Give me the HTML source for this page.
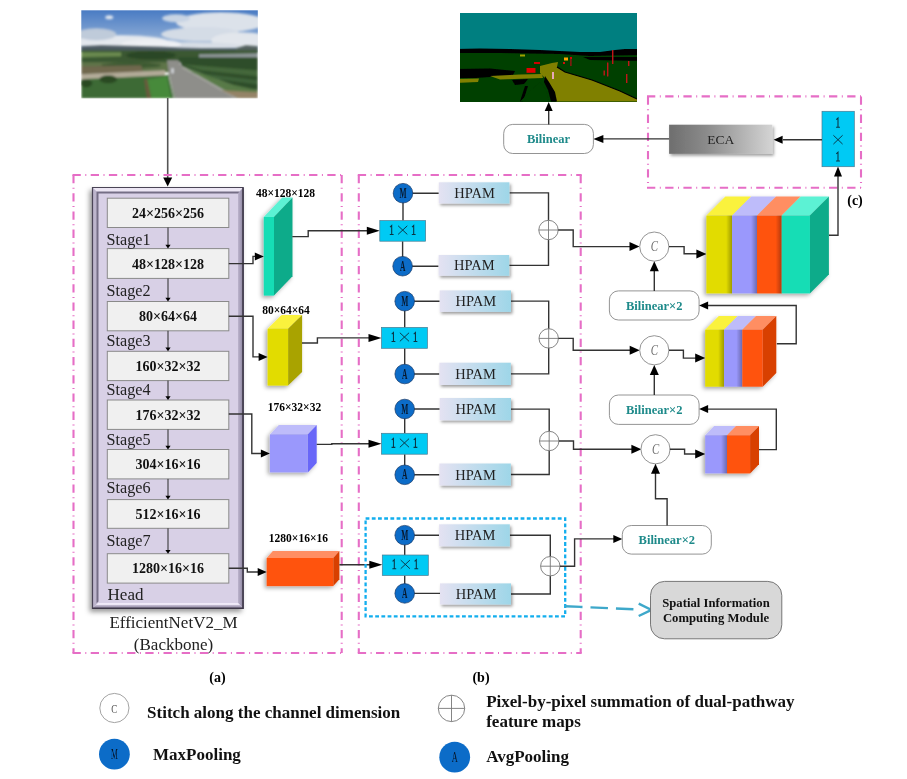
<!DOCTYPE html><html><head><meta charset="utf-8"><style>html,body{margin:0;padding:0;background:#fff;}svg{display:block;will-change:transform;}</style></head><body>
<svg width="907" height="779" viewBox="0 0 907 779">
<defs>
<filter id="sh" x="-30%" y="-30%" width="160%" height="160%"><feDropShadow dx="-2" dy="2" stdDeviation="2" flood-color="#000" flood-opacity="0.35"/></filter>
<filter id="sh2" x="-30%" y="-40%" width="160%" height="180%"><feDropShadow dx="1.5" dy="2" stdDeviation="1.8" flood-color="#000" flood-opacity="0.38"/></filter>
<filter id="sh3" x="-30%" y="-30%" width="160%" height="160%"><feDropShadow dx="-2.5" dy="3" stdDeviation="2.5" flood-color="#000" flood-opacity="0.4"/></filter>
<linearGradient id="bvr" x1="0" y1="0" x2="1" y2="0"><stop offset="0" stop-color="#BCB4CC"/><stop offset="1" stop-color="#847C98"/></linearGradient>
<linearGradient id="bvb" x1="0" y1="0" x2="0" y2="1"><stop offset="0" stop-color="#F2ECFA"/><stop offset="0.3" stop-color="#ECE6F4"/><stop offset="0.45" stop-color="#B0A8C0"/><stop offset="1" stop-color="#8E86A0"/></linearGradient>
<filter id="blur1"><feGaussianBlur stdDeviation="2"/></filter>
<filter id="blur05"><feGaussianBlur stdDeviation="0.6"/></filter>
<linearGradient id="hp" x1="0" y1="0" x2="1" y2="0"><stop offset="0" stop-color="#E4E2F2"/><stop offset="1" stop-color="#9ED6E8"/></linearGradient>
<linearGradient id="eca" x1="0" y1="0" x2="1" y2="0"><stop offset="0" stop-color="#6E6E6E"/><stop offset="0.35" stop-color="#8A8A8A"/><stop offset="1" stop-color="#D4D4D4"/></linearGradient>
<linearGradient id="edge" x1="0" y1="0" x2="1" y2="0"><stop offset="0" stop-color="#000" stop-opacity="0"/><stop offset="1" stop-color="#000" stop-opacity="0.3"/></linearGradient>
<linearGradient id="sky" x1="0" y1="0" x2="0" y2="1"><stop offset="0" stop-color="#3E72BC"/><stop offset="0.6" stop-color="#8FB0D8"/><stop offset="1" stop-color="#D8DEE6"/></linearGradient>
</defs>
<svg x="81.3" y="10.3" width="176.5" height="88" viewBox="0 0 177 88" preserveAspectRatio="none">
<defs><linearGradient id="sky2" x1="0" y1="0" x2="0" y2="1"><stop offset="0" stop-color="#4A7CC4"/><stop offset="0.55" stop-color="#7FA2D2"/><stop offset="1" stop-color="#C4CFDD"/></linearGradient><filter id="pb" x="-10%" y="-10%" width="120%" height="120%"><feGaussianBlur stdDeviation="1.2"/></filter><filter id="pb2" x="-5%" y="-5%" width="110%" height="110%"><feGaussianBlur stdDeviation="0.8"/></filter><clipPath id="pc"><rect width="177" height="88"/></clipPath></defs>
<g clip-path="url(#pc)">
<rect width="177" height="42" fill="url(#sky2)"/>
<g filter="url(#pb)">
<ellipse cx="140" cy="12" rx="45" ry="10" fill="#DCE2EA"/>
<ellipse cx="120" cy="24" rx="40" ry="7" fill="#D4DCE6"/>
<ellipse cx="160" cy="30" rx="30" ry="8" fill="#E2E6EC"/>
<ellipse cx="110" cy="36" rx="50" ry="4" fill="#D8DEE6"/>
<ellipse cx="95" cy="8" rx="14" ry="4" fill="#C8D4E4"/>
<ellipse cx="40" cy="32" rx="48" ry="7" fill="#E4E8EE"/>
<ellipse cx="70" cy="34" rx="30" ry="5" fill="#EEF0F4"/>
<ellipse cx="15" cy="24" rx="20" ry="6" fill="#BFCBDA"/>
<ellipse cx="28" cy="7" rx="4" ry="2" fill="#DDE4EE"/>
</g>
<g filter="url(#pb2)">
<polygon points="0,36 20,35 40,35.5 60,36 80,36.5 100,37.5 120,38 177,38 177,44 0,44" fill="#4E5A62"/>
<polygon points="155,38 165,35 177,36 177,42 155,42" fill="#55625E"/>
<rect x="0" y="40" width="177" height="12" fill="#3A5832"/>
<polygon points="0,42 40,42 40,46 0,47" fill="#6A8A50"/>
<ellipse cx="70" cy="45" rx="25" ry="4" fill="#2C4626"/>
<polygon points="0,52 88,52 88,62 0,64" fill="#5E7448"/>
<ellipse cx="50" cy="55" rx="30" ry="3" fill="#3E5A32"/>
<polygon points="0,56 60,55 62,62 0,64" fill="#70684E"/>
<polygon points="0,64 84,60 84,66 0,70" fill="#B4AC9A"/>
<polygon points="0,69 84,65 92,64 94,88 0,88" fill="#3C6A36"/>
<ellipse cx="27" cy="69" rx="9" ry="4" fill="#2A4A24"/>
<ellipse cx="5" cy="73" rx="6" ry="4" fill="#2A4A24"/>
<polygon points="66,69 86,66 90,88 70,88" fill="#468A3A"/>
<polygon points="63,69 66,69 70,88 66,88" fill="#6A5A3E"/>
<polygon points="86,50 97,50 101,56 158,88 94,88 88,66" fill="#8E8E8A"/>
<polyline points="88,66 93,88" fill="none" stroke="#D8D8D0" stroke-width="0.8"/>
<polyline points="101,57 155,88" fill="none" stroke="#C8C8C0" stroke-width="0.6"/>
<polygon points="118,44 177,43 177,48 118,47" fill="#8E9698"/>
<polygon points="97,47 177,47 177,80 160,78 101,56" fill="#2E4E2A"/>
<polygon points="101,54 177,60 177,66 120,60" fill="#44683A"/>
<polygon points="110,62 177,70 177,74 130,68" fill="#40643A"/>
<polygon points="101,56 158,88 177,88 177,80 150,74" fill="#587A46"/>
<polygon points="140,80 177,82 177,88 158,88" fill="#958468"/>
<rect x="90.5" y="58" width="2" height="5" fill="#E0E4EA"/>
</g>
</g>
</svg>
<polyline points="167.7,98.0 167.7,179.0" fill="none" stroke="#555" stroke-width="1.6" stroke-linejoin="miter"/>
<polygon points="167.7,186.5 163.2,177.5 172.2,177.5" fill="#000"/>
<path d="M72.5 175.0 H342.7" fill="none" stroke="#E66EC6" stroke-width="2.1" stroke-dasharray="8.3 4.5 1 4.4"/>
<path d="M72.5 653.0 H342.7" fill="none" stroke="#E66EC6" stroke-width="2.1" stroke-dasharray="8.3 4.5 1 4.4"/>
<path d="M73.5 175.0 V653.0" fill="none" stroke="#E66EC6" stroke-width="2.1" stroke-dasharray="8.3 4.5 1 4.4"/>
<path d="M341.7 175.0 V653.0" fill="none" stroke="#E66EC6" stroke-width="2.1" stroke-dasharray="8.3 4.5 1 4.4"/>
<path d="M357.8 175.0 H581.7" fill="none" stroke="#E66EC6" stroke-width="2.1" stroke-dasharray="8.3 4.5 1 4.4"/>
<path d="M357.8 653.0 H581.7" fill="none" stroke="#E66EC6" stroke-width="2.1" stroke-dasharray="8.3 4.5 1 4.4"/>
<path d="M358.8 175.0 V653.0" fill="none" stroke="#E66EC6" stroke-width="2.1" stroke-dasharray="8.3 4.5 1 4.4"/>
<path d="M580.7 175.0 V653.0" fill="none" stroke="#E66EC6" stroke-width="2.1" stroke-dasharray="8.3 4.5 1 4.4"/>
<path d="M647.0 96.4 H862.0" fill="none" stroke="#E66EC6" stroke-width="2.1" stroke-dasharray="8.3 4.5 1 4.4"/>
<path d="M647.0 187.7 H862.0" fill="none" stroke="#E66EC6" stroke-width="2.1" stroke-dasharray="8.3 4.5 1 4.4"/>
<path d="M648.0 96.4 V187.7" fill="none" stroke="#E66EC6" stroke-width="2.1" stroke-dasharray="8.3 4.5 1 4.4"/>
<path d="M861.0 96.4 V187.7" fill="none" stroke="#E66EC6" stroke-width="2.1" stroke-dasharray="8.3 4.5 1 4.4"/>
<rect x="92" y="187" width="152" height="422" fill="#D8D0E6" filter="url(#sh3)"/>
<polygon points="92,187 244,187 238,193 98,193" fill="#ECE6F4"/>
<polygon points="92,187 98,193 98,603 92,609" fill="#BDB5CC"/>
<polygon points="244,187 244,609 238,603 238,193" fill="url(#bvr)"/>
<polygon points="92,609 244,609 238,603 98,603" fill="url(#bvb)"/>
<polygon points="96.5,191.5 239.5,191.5 238,193.5 98.5,193.5 98.5,601.5 96.5,603" fill="#756E86"/>
<polyline points="92.5,609 92.5,187.5 243.5,187.5" fill="none" stroke="#4A4456" stroke-width="1.2"/>
<polyline points="243,187.5 243,608.2 92.5,608.2" fill="none" stroke="#3E3848" stroke-width="1.6"/>
<rect x="107.3" y="198.2" width="121.5" height="29.3" fill="#F0F0F0" stroke="#8A8A8A" stroke-width="1"/>
<text x="168.0" y="217.8" font-family="Liberation Serif" font-size="14" font-weight="bold" fill="#111" text-anchor="middle" >24×256×256</text>
<rect x="107.3" y="248.6" width="121.5" height="29.8" fill="#F0F0F0" stroke="#8A8A8A" stroke-width="1"/>
<text x="168.0" y="268.5" font-family="Liberation Serif" font-size="14" font-weight="bold" fill="#111" text-anchor="middle" >48×128×128</text>
<rect x="107.3" y="301.5" width="121.5" height="29.3" fill="#F0F0F0" stroke="#8A8A8A" stroke-width="1"/>
<text x="168.0" y="321.1" font-family="Liberation Serif" font-size="14" font-weight="bold" fill="#111" text-anchor="middle" >80×64×64</text>
<rect x="107.3" y="351.3" width="121.5" height="29.3" fill="#F0F0F0" stroke="#8A8A8A" stroke-width="1"/>
<text x="168.0" y="371.0" font-family="Liberation Serif" font-size="14" font-weight="bold" fill="#111" text-anchor="middle" >160×32×32</text>
<rect x="107.3" y="400.0" width="121.5" height="29.4" fill="#F0F0F0" stroke="#8A8A8A" stroke-width="1"/>
<text x="168.0" y="419.7" font-family="Liberation Serif" font-size="14" font-weight="bold" fill="#111" text-anchor="middle" >176×32×32</text>
<rect x="107.3" y="449.5" width="121.5" height="29.4" fill="#F0F0F0" stroke="#8A8A8A" stroke-width="1"/>
<text x="168.0" y="469.2" font-family="Liberation Serif" font-size="14" font-weight="bold" fill="#111" text-anchor="middle" >304×16×16</text>
<rect x="107.3" y="499.6" width="121.5" height="28.7" fill="#F0F0F0" stroke="#8A8A8A" stroke-width="1"/>
<text x="168.0" y="519.0" font-family="Liberation Serif" font-size="14" font-weight="bold" fill="#111" text-anchor="middle" >512×16×16</text>
<rect x="107.3" y="553.7" width="121.5" height="29.4" fill="#F0F0F0" stroke="#8A8A8A" stroke-width="1"/>
<text x="168.0" y="573.4" font-family="Liberation Serif" font-size="14" font-weight="bold" fill="#111" text-anchor="middle" >1280×16×16</text>
<text x="106.5" y="244.7" font-family="Liberation Serif" font-size="17.5" font-weight="normal" fill="#222" text-anchor="start" textLength="44" lengthAdjust="spacingAndGlyphs">Stage1</text>
<text x="106.5" y="296.0" font-family="Liberation Serif" font-size="17.5" font-weight="normal" fill="#222" text-anchor="start" textLength="44" lengthAdjust="spacingAndGlyphs">Stage2</text>
<text x="106.5" y="346.0" font-family="Liberation Serif" font-size="17.5" font-weight="normal" fill="#222" text-anchor="start" textLength="44" lengthAdjust="spacingAndGlyphs">Stage3</text>
<text x="106.5" y="395.0" font-family="Liberation Serif" font-size="17.5" font-weight="normal" fill="#222" text-anchor="start" textLength="44" lengthAdjust="spacingAndGlyphs">Stage4</text>
<text x="106.5" y="444.5" font-family="Liberation Serif" font-size="17.5" font-weight="normal" fill="#222" text-anchor="start" textLength="44" lengthAdjust="spacingAndGlyphs">Stage5</text>
<text x="106.5" y="493.0" font-family="Liberation Serif" font-size="17.5" font-weight="normal" fill="#222" text-anchor="start" textLength="44" lengthAdjust="spacingAndGlyphs">Stage6</text>
<text x="106.5" y="546.0" font-family="Liberation Serif" font-size="17.5" font-weight="normal" fill="#222" text-anchor="start" textLength="44" lengthAdjust="spacingAndGlyphs">Stage7</text>
<text x="107.5" y="599.5" font-family="Liberation Serif" font-size="17.5" font-weight="normal" fill="#222" text-anchor="start" textLength="36" lengthAdjust="spacingAndGlyphs">Head</text>
<polyline points="168.0,227.5 168.0,245.6" fill="none" stroke="#2A2A2A" stroke-width="1.0" stroke-linejoin="miter"/>
<polygon points="168.0,248.6 165.4,244.8 170.6,244.8" fill="#000"/>
<polyline points="168.0,278.4 168.0,298.5" fill="none" stroke="#2A2A2A" stroke-width="1.0" stroke-linejoin="miter"/>
<polygon points="168.0,301.5 165.4,297.7 170.6,297.7" fill="#000"/>
<polyline points="168.0,330.8 168.0,348.3" fill="none" stroke="#2A2A2A" stroke-width="1.0" stroke-linejoin="miter"/>
<polygon points="168.0,351.3 165.4,347.5 170.6,347.5" fill="#000"/>
<polyline points="168.0,380.6 168.0,397.0" fill="none" stroke="#2A2A2A" stroke-width="1.0" stroke-linejoin="miter"/>
<polygon points="168.0,400.0 165.4,396.2 170.6,396.2" fill="#000"/>
<polyline points="168.0,429.4 168.0,446.5" fill="none" stroke="#2A2A2A" stroke-width="1.0" stroke-linejoin="miter"/>
<polygon points="168.0,449.5 165.4,445.7 170.6,445.7" fill="#000"/>
<polyline points="168.0,478.9 168.0,496.6" fill="none" stroke="#2A2A2A" stroke-width="1.0" stroke-linejoin="miter"/>
<polygon points="168.0,499.6 165.4,495.8 170.6,495.8" fill="#000"/>
<polyline points="168.0,528.3 168.0,550.7" fill="none" stroke="#2A2A2A" stroke-width="1.0" stroke-linejoin="miter"/>
<polygon points="168.0,553.7 165.4,549.9 170.6,549.9" fill="#000"/>
<text x="173.5" y="628.0" font-family="Liberation Serif" font-size="17" font-weight="normal" fill="#222" text-anchor="middle" >EfficientNetV2_M</text>
<text x="173.5" y="649.5" font-family="Liberation Serif" font-size="17" font-weight="normal" fill="#222" text-anchor="middle" >(Backbone)</text>
<text x="217.5" y="681.5" font-family="Liberation Serif" font-size="14" font-weight="bold" fill="#000" text-anchor="middle" >(a)</text>
<text x="481.0" y="681.5" font-family="Liberation Serif" font-size="14" font-weight="bold" fill="#000" text-anchor="middle" >(b)</text>
<g filter="url(#sh)">
<polygon points="263.8,217.0 274.0,217.0 292.5,197.6 282.3,197.6" fill="#5CF2D4"/>
<polygon points="274.0,217.0 292.5,197.6 292.5,276.2 274.0,295.6" fill="#0EAB8A"/>
<rect x="263.8" y="217.0" width="10.2" height="78.6" fill="#12DDB5"/>
</g>
<text x="285.5" y="196.6" font-family="Liberation Serif" font-size="11.5" font-weight="bold" fill="#000" text-anchor="middle" >48×128×128</text>
<g filter="url(#sh)">
<polygon points="267.6,328.7 288.1,328.7 302.1,315.0 281.6,315.0" fill="#FAF23E"/>
<polygon points="288.1,328.7 302.1,315.0 302.1,371.9 288.1,385.6" fill="#A9A300"/>
<rect x="267.6" y="328.7" width="20.5" height="56.9" fill="#E2DC00"/>
</g>
<text x="286.0" y="314.4" font-family="Liberation Serif" font-size="11.5" font-weight="bold" fill="#000" text-anchor="middle" >80×64×64</text>
<g filter="url(#sh)">
<polygon points="269.9,434.4 307.8,434.4 316.7,425.1 278.8,425.1" fill="#BEBCFA"/>
<polygon points="307.8,434.4 316.7,425.1 316.7,463.1 307.8,472.4" fill="#6866F8"/>
<rect x="269.9" y="434.4" width="37.9" height="38.0" fill="#9A98FC"/>
</g>
<text x="294.5" y="410.8" font-family="Liberation Serif" font-size="11.5" font-weight="bold" fill="#000" text-anchor="middle" >176×32×32</text>
<g filter="url(#sh)">
<polygon points="266.7,558.0 333.3,558.0 339.4,551.1 272.8,551.1" fill="#FF8E62"/>
<polygon points="333.3,558.0 339.4,551.1 339.4,579.2 333.3,586.1" fill="#D84000"/>
<rect x="266.7" y="558.0" width="66.6" height="28.1" fill="#FF5210"/>
</g>
<text x="298.4" y="541.5" font-family="Liberation Serif" font-size="11.5" font-weight="bold" fill="#000" text-anchor="middle" >1280×16×16</text>
<polyline points="228.8,263.6 253.0,263.6 253.0,256.4 256.0,256.4" fill="none" stroke="#333" stroke-width="1.4" stroke-linejoin="miter"/>
<polygon points="263.8,256.4 254.8,252.4 254.8,260.4" fill="#000"/>
<polyline points="228.8,316.2 253.0,316.2 253.0,356.9 259.0,356.9" fill="none" stroke="#333" stroke-width="1.4" stroke-linejoin="miter"/>
<polygon points="267.6,356.9 258.6,352.9 258.6,360.9" fill="#000"/>
<polyline points="228.8,414.0 251.8,414.0 251.8,453.5 261.0,453.5" fill="none" stroke="#333" stroke-width="1.4" stroke-linejoin="miter"/>
<polygon points="269.9,453.5 260.9,449.5 260.9,457.5" fill="#000"/>
<polyline points="228.8,568.3 247.3,568.3 247.3,572.0 258.0,572.0" fill="none" stroke="#333" stroke-width="1.4" stroke-linejoin="miter"/>
<polygon points="266.7,572.0 257.7,568.0 257.7,576.0" fill="#000"/>
<polyline points="292.3,236.6 308.2,236.6 308.2,230.8 371.0,230.8" fill="none" stroke="#333" stroke-width="1.4" stroke-linejoin="miter"/>
<polygon points="379.8,230.8 366.8,226.8 366.8,234.8" fill="#000"/>
<polyline points="302.0,343.0 317.4,343.0 317.4,337.9 373.0,337.9" fill="none" stroke="#333" stroke-width="1.4" stroke-linejoin="miter"/>
<polygon points="381.5,337.9 368.5,333.9 368.5,341.9" fill="#000"/>
<polyline points="316.7,444.4 331.8,444.4 331.8,443.8 373.0,443.8" fill="none" stroke="#333" stroke-width="1.4" stroke-linejoin="miter"/>
<polygon points="381.5,443.8 368.5,439.8 368.5,447.8" fill="#000"/>
<polyline points="339.4,564.8 374.0,564.8" fill="none" stroke="#333" stroke-width="1.4" stroke-linejoin="miter"/>
<polygon points="382.3,564.8 369.3,560.8 369.3,568.8" fill="#000"/>
<rect x="365.6" y="518.5" width="199.6" height="97.8" fill="none" stroke="#12AEEE" stroke-width="2.3" stroke-dasharray="3.8 2.4"/>
<polyline points="403.0,193.2 403.0,220.6" fill="none" stroke="#333" stroke-width="1.4" stroke-linejoin="miter"/>
<polyline points="402.6,241.2 402.6,266.2" fill="none" stroke="#333" stroke-width="1.4" stroke-linejoin="miter"/>
<polyline points="403.0,193.2 438.8,193.2" fill="none" stroke="#333" stroke-width="1.4" stroke-linejoin="miter"/>
<polyline points="402.6,266.2 438.6,266.2" fill="none" stroke="#333" stroke-width="1.4" stroke-linejoin="miter"/>
<polyline points="509.4,192.9 548.5,192.9 548.5,230.0" fill="none" stroke="#333" stroke-width="1.4" stroke-linejoin="miter"/>
<polyline points="509.2,265.4 548.5,265.4 548.5,230.0" fill="none" stroke="#333" stroke-width="1.4" stroke-linejoin="miter"/>
<rect x="379.8" y="220.6" width="45.8" height="20.6" fill="#00CAF4" stroke="#4A7A90" stroke-width="0.7"/>
<path d="M390.00 227.10 L391.70 225.50 L391.70 234.50 M389.80 234.50 L393.60 234.50" fill="none" stroke="#0B3444" stroke-width="1.05" stroke-linecap="butt"/>
<path d="M398.10 225.80 L407.30 234.40 M407.30 225.80 L398.10 234.40" fill="none" stroke="#0B3444" stroke-width="0.95"/>
<path d="M412.00 227.10 L413.70 225.50 L413.70 234.50 M411.80 234.50 L415.60 234.50" fill="none" stroke="#0B3444" stroke-width="1.05" stroke-linecap="butt"/>
<circle cx="403.0" cy="193.2" r="9.8" fill="#0C6CC8" stroke="#1A3A66" stroke-width="0.7"/>
<text x="0" y="197.8" font-family="Liberation Serif" font-size="15" font-weight="bold" fill="#07182C" text-anchor="middle" transform="translate(403.0,0) scale(0.5,1)">M</text>
<circle cx="402.6" cy="266.2" r="9.8" fill="#0C6CC8" stroke="#1A3A66" stroke-width="0.7"/>
<text x="0" y="270.8" font-family="Liberation Serif" font-size="15" font-weight="bold" fill="#07182C" text-anchor="middle" transform="translate(402.6,0) scale(0.5,1)">A</text>
<rect x="438.8" y="182.3" width="70.6" height="21.2" fill="url(#hp)" filter="url(#sh2)"/>
<text x="474.6" y="197.9" font-family="Liberation Serif" font-size="14.5" font-weight="normal" fill="#222" text-anchor="middle" >HPAM</text>
<rect x="438.6" y="255.0" width="70.6" height="20.8" fill="url(#hp)" filter="url(#sh2)"/>
<text x="474.4" y="270.4" font-family="Liberation Serif" font-size="14.5" font-weight="normal" fill="#222" text-anchor="middle" >HPAM</text>
<circle cx="548.5" cy="230.0" r="9.7" fill="#fff" stroke="#777" stroke-width="0.9"/>
<line x1="538.8" y1="230.0" x2="558.2" y2="230.0" stroke="#777" stroke-width="0.9"/>
<line x1="548.5" y1="220.3" x2="548.5" y2="239.7" stroke="#777" stroke-width="0.9"/>
<polyline points="404.7,301.2 404.7,327.4" fill="none" stroke="#333" stroke-width="1.4" stroke-linejoin="miter"/>
<polyline points="404.7,348.3 404.7,374.0" fill="none" stroke="#333" stroke-width="1.4" stroke-linejoin="miter"/>
<polyline points="404.7,301.2 439.7,301.2" fill="none" stroke="#333" stroke-width="1.4" stroke-linejoin="miter"/>
<polyline points="404.7,374.0 439.4,374.0" fill="none" stroke="#333" stroke-width="1.4" stroke-linejoin="miter"/>
<polyline points="511.0,301.1 548.7,301.1 548.7,338.4" fill="none" stroke="#333" stroke-width="1.4" stroke-linejoin="miter"/>
<polyline points="510.8,373.9 548.7,373.9 548.7,338.4" fill="none" stroke="#333" stroke-width="1.4" stroke-linejoin="miter"/>
<rect x="381.5" y="327.4" width="45.9" height="20.9" fill="#00CAF4" stroke="#4A7A90" stroke-width="0.7"/>
<path d="M391.75 334.05 L393.45 332.45 L393.45 341.45 M391.55 341.45 L395.35 341.45" fill="none" stroke="#0B3444" stroke-width="1.05" stroke-linecap="butt"/>
<path d="M399.85 332.75 L409.05 341.35 M409.05 332.75 L399.85 341.35" fill="none" stroke="#0B3444" stroke-width="0.95"/>
<path d="M413.75 334.05 L415.45 332.45 L415.45 341.45 M413.55 341.45 L417.35 341.45" fill="none" stroke="#0B3444" stroke-width="1.05" stroke-linecap="butt"/>
<circle cx="404.7" cy="301.2" r="9.8" fill="#0C6CC8" stroke="#1A3A66" stroke-width="0.7"/>
<text x="0" y="305.8" font-family="Liberation Serif" font-size="15" font-weight="bold" fill="#07182C" text-anchor="middle" transform="translate(404.7,0) scale(0.5,1)">M</text>
<circle cx="404.7" cy="374.0" r="9.8" fill="#0C6CC8" stroke="#1A3A66" stroke-width="0.7"/>
<text x="0" y="378.6" font-family="Liberation Serif" font-size="15" font-weight="bold" fill="#07182C" text-anchor="middle" transform="translate(404.7,0) scale(0.5,1)">A</text>
<rect x="439.7" y="290.4" width="71.3" height="21.5" fill="url(#hp)" filter="url(#sh2)"/>
<text x="475.9" y="306.1" font-family="Liberation Serif" font-size="14.5" font-weight="normal" fill="#222" text-anchor="middle" >HPAM</text>
<rect x="439.4" y="362.7" width="71.4" height="22.3" fill="url(#hp)" filter="url(#sh2)"/>
<text x="475.6" y="378.9" font-family="Liberation Serif" font-size="14.5" font-weight="normal" fill="#222" text-anchor="middle" >HPAM</text>
<circle cx="548.7" cy="338.4" r="9.7" fill="#fff" stroke="#777" stroke-width="0.9"/>
<line x1="539.0" y1="338.4" x2="558.4" y2="338.4" stroke="#777" stroke-width="0.9"/>
<line x1="548.7" y1="328.7" x2="548.7" y2="348.1" stroke="#777" stroke-width="0.9"/>
<polyline points="404.7,409.0 404.7,433.3" fill="none" stroke="#333" stroke-width="1.4" stroke-linejoin="miter"/>
<polyline points="404.7,454.2 404.7,474.8" fill="none" stroke="#333" stroke-width="1.4" stroke-linejoin="miter"/>
<polyline points="404.7,409.0 439.7,409.0" fill="none" stroke="#333" stroke-width="1.4" stroke-linejoin="miter"/>
<polyline points="404.7,474.8 439.4,474.8" fill="none" stroke="#333" stroke-width="1.4" stroke-linejoin="miter"/>
<polyline points="511.0,409.1 549.2,409.1 549.2,441.0" fill="none" stroke="#333" stroke-width="1.4" stroke-linejoin="miter"/>
<polyline points="510.8,474.5 549.2,474.5 549.2,441.0" fill="none" stroke="#333" stroke-width="1.4" stroke-linejoin="miter"/>
<rect x="381.5" y="433.3" width="45.9" height="20.9" fill="#00CAF4" stroke="#4A7A90" stroke-width="0.7"/>
<path d="M391.75 439.95 L393.45 438.35 L393.45 447.35 M391.55 447.35 L395.35 447.35" fill="none" stroke="#0B3444" stroke-width="1.05" stroke-linecap="butt"/>
<path d="M399.85 438.65 L409.05 447.25 M409.05 438.65 L399.85 447.25" fill="none" stroke="#0B3444" stroke-width="0.95"/>
<path d="M413.75 439.95 L415.45 438.35 L415.45 447.35 M413.55 447.35 L417.35 447.35" fill="none" stroke="#0B3444" stroke-width="1.05" stroke-linecap="butt"/>
<circle cx="404.7" cy="409.0" r="9.8" fill="#0C6CC8" stroke="#1A3A66" stroke-width="0.7"/>
<text x="0" y="413.6" font-family="Liberation Serif" font-size="15" font-weight="bold" fill="#07182C" text-anchor="middle" transform="translate(404.7,0) scale(0.5,1)">M</text>
<circle cx="404.7" cy="474.8" r="9.8" fill="#0C6CC8" stroke="#1A3A66" stroke-width="0.7"/>
<text x="0" y="479.4" font-family="Liberation Serif" font-size="15" font-weight="bold" fill="#07182C" text-anchor="middle" transform="translate(404.7,0) scale(0.5,1)">A</text>
<rect x="439.7" y="398.0" width="71.3" height="22.3" fill="url(#hp)" filter="url(#sh2)"/>
<text x="475.9" y="414.1" font-family="Liberation Serif" font-size="14.5" font-weight="normal" fill="#222" text-anchor="middle" >HPAM</text>
<rect x="439.4" y="463.5" width="71.4" height="22.0" fill="url(#hp)" filter="url(#sh2)"/>
<text x="475.6" y="479.5" font-family="Liberation Serif" font-size="14.5" font-weight="normal" fill="#222" text-anchor="middle" >HPAM</text>
<circle cx="549.2" cy="441.0" r="9.7" fill="#fff" stroke="#777" stroke-width="0.9"/>
<line x1="539.5" y1="441.0" x2="558.9" y2="441.0" stroke="#777" stroke-width="0.9"/>
<line x1="549.2" y1="431.3" x2="549.2" y2="450.7" stroke="#777" stroke-width="0.9"/>
<polyline points="404.7,535.2 404.7,555.0" fill="none" stroke="#333" stroke-width="1.4" stroke-linejoin="miter"/>
<polyline points="404.7,575.4 404.7,593.4" fill="none" stroke="#333" stroke-width="1.4" stroke-linejoin="miter"/>
<polyline points="404.7,535.2 439.1,535.2" fill="none" stroke="#333" stroke-width="1.4" stroke-linejoin="miter"/>
<polyline points="404.7,593.4 440.0,593.4" fill="none" stroke="#333" stroke-width="1.4" stroke-linejoin="miter"/>
<polyline points="509.8,535.3 550.3,535.3 550.3,566.2" fill="none" stroke="#333" stroke-width="1.4" stroke-linejoin="miter"/>
<polyline points="511.0,594.0 550.3,594.0 550.3,566.2" fill="none" stroke="#333" stroke-width="1.4" stroke-linejoin="miter"/>
<rect x="382.3" y="555.0" width="46.0" height="20.4" fill="#00CAF4" stroke="#4A7A90" stroke-width="0.7"/>
<path d="M392.60 561.40 L394.30 559.80 L394.30 568.80 M392.40 568.80 L396.20 568.80" fill="none" stroke="#0B3444" stroke-width="1.05" stroke-linecap="butt"/>
<path d="M400.70 560.10 L409.90 568.70 M409.90 560.10 L400.70 568.70" fill="none" stroke="#0B3444" stroke-width="0.95"/>
<path d="M414.60 561.40 L416.30 559.80 L416.30 568.80 M414.40 568.80 L418.20 568.80" fill="none" stroke="#0B3444" stroke-width="1.05" stroke-linecap="butt"/>
<circle cx="404.7" cy="535.2" r="9.8" fill="#0C6CC8" stroke="#1A3A66" stroke-width="0.7"/>
<text x="0" y="539.8" font-family="Liberation Serif" font-size="15" font-weight="bold" fill="#07182C" text-anchor="middle" transform="translate(404.7,0) scale(0.5,1)">M</text>
<circle cx="404.7" cy="593.4" r="9.8" fill="#0C6CC8" stroke="#1A3A66" stroke-width="0.7"/>
<text x="0" y="598.0" font-family="Liberation Serif" font-size="15" font-weight="bold" fill="#07182C" text-anchor="middle" transform="translate(404.7,0) scale(0.5,1)">A</text>
<rect x="439.1" y="524.3" width="70.7" height="22.0" fill="url(#hp)" filter="url(#sh2)"/>
<text x="475.0" y="540.3" font-family="Liberation Serif" font-size="14.5" font-weight="normal" fill="#222" text-anchor="middle" >HPAM</text>
<rect x="440.0" y="583.4" width="71.0" height="21.1" fill="url(#hp)" filter="url(#sh2)"/>
<text x="476.0" y="599.0" font-family="Liberation Serif" font-size="14.5" font-weight="normal" fill="#222" text-anchor="middle" >HPAM</text>
<circle cx="550.3" cy="566.2" r="9.7" fill="#fff" stroke="#777" stroke-width="0.9"/>
<line x1="540.6" y1="566.2" x2="560.0" y2="566.2" stroke="#777" stroke-width="0.9"/>
<line x1="550.3" y1="556.5" x2="550.3" y2="575.9" stroke="#777" stroke-width="0.9"/>
<polyline points="558.2,230.0 573.2,230.0 573.2,246.6 631.0,246.6" fill="none" stroke="#333" stroke-width="1.4" stroke-linejoin="miter"/>
<polygon points="639.5,246.6 629.5,242.1 629.5,251.1" fill="#000"/>
<polyline points="558.4,338.4 573.2,338.4 573.2,350.3 631.0,350.3" fill="none" stroke="#333" stroke-width="1.4" stroke-linejoin="miter"/>
<polygon points="639.7,350.3 629.7,345.8 629.7,354.8" fill="#000"/>
<polyline points="558.9,441.0 573.5,441.0 573.5,449.3 633.0,449.3" fill="none" stroke="#333" stroke-width="1.4" stroke-linejoin="miter"/>
<polygon points="641.4,449.3 631.4,444.8 631.4,453.8" fill="#000"/>
<polyline points="560.0,566.2 574.6,566.2 574.6,538.9 614.0,538.9" fill="none" stroke="#333" stroke-width="1.4" stroke-linejoin="miter"/>
<polygon points="622.3,538.9 613.3,534.9 613.3,542.9" fill="#000"/>
<circle cx="654.3" cy="246.6" r="14.6" fill="#fff" stroke="#888" stroke-width="0.9"/>
<text x="0" y="251.0" font-family="Liberation Serif" font-style="italic" font-size="14.5" fill="#6A6A6A" text-anchor="middle" transform="translate(654.3,0) scale(0.75,1)">C</text>
<circle cx="654.3" cy="350.3" r="14.6" fill="#fff" stroke="#888" stroke-width="0.9"/>
<text x="0" y="354.7" font-family="Liberation Serif" font-style="italic" font-size="14.5" fill="#6A6A6A" text-anchor="middle" transform="translate(654.3,0) scale(0.75,1)">C</text>
<circle cx="655.5" cy="449.3" r="14.6" fill="#fff" stroke="#888" stroke-width="0.9"/>
<text x="0" y="453.7" font-family="Liberation Serif" font-style="italic" font-size="14.5" fill="#6A6A6A" text-anchor="middle" transform="translate(655.5,0) scale(0.75,1)">C</text>
<polyline points="668.9,246.6 684.1,246.6 684.1,253.7 698.0,253.7" fill="none" stroke="#333" stroke-width="1.4" stroke-linejoin="miter"/>
<polygon points="706.4,254.0 696.4,249.5 696.4,258.5" fill="#000"/>
<polyline points="668.9,350.3 683.4,350.3 683.4,358.1 697.0,358.1" fill="none" stroke="#333" stroke-width="1.4" stroke-linejoin="miter"/>
<polygon points="705.2,358.1 695.2,353.6 695.2,362.6" fill="#000"/>
<polyline points="669.8,449.3 684.6,449.3 684.6,454.0 697.0,454.0" fill="none" stroke="#333" stroke-width="1.4" stroke-linejoin="miter"/>
<polygon points="705.2,454.0 695.2,449.5 695.2,458.5" fill="#000"/>
<rect x="609.4" y="290.9" width="89.7" height="29.1" rx="9" ry="9" fill="#fff" stroke="#888" stroke-width="0.9"/>
<text x="654.2" y="309.9" font-family="Liberation Serif" font-size="12.5" font-weight="bold" fill="#1E8A8A" text-anchor="middle" >Bilinear×2</text>
<rect x="609.4" y="395.0" width="89.7" height="29.4" rx="9" ry="9" fill="#fff" stroke="#888" stroke-width="0.9"/>
<text x="654.2" y="414.2" font-family="Liberation Serif" font-size="12.5" font-weight="bold" fill="#1E8A8A" text-anchor="middle" >Bilinear×2</text>
<rect x="622.3" y="525.5" width="89.0" height="28.6" rx="9" ry="9" fill="#fff" stroke="#888" stroke-width="0.9"/>
<text x="666.8" y="544.3" font-family="Liberation Serif" font-size="12.5" font-weight="bold" fill="#1E8A8A" text-anchor="middle" >Bilinear×2</text>
<polyline points="654.3,290.9 654.3,270.0" fill="none" stroke="#333" stroke-width="1.4" stroke-linejoin="miter"/>
<polygon points="654.3,261.2 649.8,271.2 658.8,271.2" fill="#000"/>
<polyline points="654.3,395.0 654.3,374.0" fill="none" stroke="#333" stroke-width="1.4" stroke-linejoin="miter"/>
<polygon points="654.3,365.0 649.8,375.0 658.8,375.0" fill="#000"/>
<polyline points="667.1,525.5 667.1,498.8 655.5,498.8 655.5,473.0" fill="none" stroke="#333" stroke-width="1.4" stroke-linejoin="miter"/>
<polygon points="655.5,463.8 651.0,473.8 660.0,473.8" fill="#000"/>
<g filter="url(#sh)">
<polygon points="706.4,215.6 732.1,215.6 751.1,196.6 725.4,196.6" fill="#FAF23E"/>
<polygon points="732.1,215.6 757.0,215.6 776.0,196.6 751.1,196.6" fill="#BEBCFA"/>
<polygon points="757.0,215.6 781.7,215.6 800.7,196.6 776.0,196.6" fill="#FF8E62"/>
<polygon points="781.7,215.6 809.9,215.6 828.9,196.6 800.7,196.6" fill="#5CF2D4"/>
<polygon points="809.9,215.6 828.9,196.6 828.9,274.4 809.9,293.4" fill="#0EAB8A"/>
<rect x="706.4" y="215.6" width="25.7" height="77.8" fill="#E2DC00"/>
<rect x="726.1" y="215.6" width="6" height="77.8" fill="url(#edge)"/>
<rect x="732.1" y="215.6" width="24.9" height="77.8" fill="#9A98FC"/>
<rect x="751.0" y="215.6" width="6" height="77.8" fill="url(#edge)"/>
<rect x="757.0" y="215.6" width="24.7" height="77.8" fill="#FF5210"/>
<rect x="775.7" y="215.6" width="6" height="77.8" fill="url(#edge)"/>
<rect x="781.7" y="215.6" width="28.2" height="77.8" fill="#12DDB5"/>
</g>
<g filter="url(#sh)">
<polygon points="705.2,329.7 724.1,329.7 737.7,315.9 718.8,315.9" fill="#FAF23E"/>
<polygon points="724.1,329.7 742.3,329.7 755.9,315.9 737.7,315.9" fill="#BEBCFA"/>
<polygon points="742.3,329.7 762.7,329.7 776.3,315.9 755.9,315.9" fill="#FF8E62"/>
<polygon points="762.7,329.7 776.3,315.9 776.3,372.9 762.7,386.7" fill="#D84000"/>
<rect x="705.2" y="329.7" width="18.9" height="57.0" fill="#E2DC00"/>
<rect x="718.1" y="329.7" width="6" height="57.0" fill="url(#edge)"/>
<rect x="724.1" y="329.7" width="18.2" height="57.0" fill="#9A98FC"/>
<rect x="736.3" y="329.7" width="6" height="57.0" fill="url(#edge)"/>
<rect x="742.3" y="329.7" width="20.4" height="57.0" fill="#FF5210"/>
</g>
<g filter="url(#sh)">
<polygon points="705.2,435.3 727.0,435.3 735.9,426.1 714.1,426.1" fill="#BEBCFA"/>
<polygon points="727.0,435.3 750.1,435.3 759.0,426.1 735.9,426.1" fill="#FF8E62"/>
<polygon points="750.1,435.3 759.0,426.1 759.0,464.2 750.1,473.4" fill="#D84000"/>
<rect x="705.2" y="435.3" width="21.8" height="38.1" fill="#9A98FC"/>
<rect x="721.0" y="435.3" width="6" height="38.1" fill="url(#edge)"/>
<rect x="727.0" y="435.3" width="23.1" height="38.1" fill="#FF5210"/>
</g>
<polyline points="776.8,343.8 796.2,343.8 796.2,305.5 708.0,305.5" fill="none" stroke="#333" stroke-width="1.4" stroke-linejoin="miter"/>
<polygon points="699.1,305.5 708.1,301.5 708.1,309.5" fill="#000"/>
<polyline points="759.0,449.6 776.3,449.6 776.3,409.1 708.0,409.1" fill="none" stroke="#333" stroke-width="1.4" stroke-linejoin="miter"/>
<polygon points="699.1,409.1 708.1,405.1 708.1,413.1" fill="#000"/>
<polyline points="829.0,235.3 838.0,235.3 838.0,176.0" fill="none" stroke="#333" stroke-width="1.4" stroke-linejoin="miter"/>
<polygon points="838.0,166.5 834.0,176.5 842.0,176.5" fill="#000"/>
<rect x="822" y="111.3" width="32.3" height="55.4" fill="#00CAF4" stroke="#4A7A90" stroke-width="0.7"/>
<path d="M836.30 119.60 L838.00 118.00 L838.00 127.20 M836.10 127.20 L839.90 127.20" fill="none" stroke="#0B3444" stroke-width="1.05" stroke-linecap="butt"/>
<path d="M833.40 135.30 L842.60 144.10 M842.60 135.30 L833.40 144.10" fill="none" stroke="#0B3444" stroke-width="0.95"/>
<path d="M836.30 153.80 L838.00 152.20 L838.00 160.90 M836.10 160.90 L839.90 160.90" fill="none" stroke="#0B3444" stroke-width="1.05" stroke-linecap="butt"/>
<polyline points="822.0,139.8 783.0,139.8" fill="none" stroke="#333" stroke-width="1.4" stroke-linejoin="miter"/>
<polygon points="773.6,139.8 782.6,135.8 782.6,143.8" fill="#000"/>
<rect x="669.1" y="124.7" width="103.2" height="29.1" fill="url(#eca)" filter="url(#sh2)"/>
<text x="720.7" y="144.0" font-family="Liberation Serif" font-size="13.5" font-weight="normal" fill="#222" text-anchor="middle" >ECA</text>
<polyline points="669.1,138.9 603.0,138.9" fill="none" stroke="#333" stroke-width="1.4" stroke-linejoin="miter"/>
<polygon points="593.4,138.9 603.4,134.9 603.4,142.9" fill="#000"/>
<rect x="503.7" y="124.4" width="89.7" height="29.1" rx="9" ry="9" fill="#fff" stroke="#888" stroke-width="0.9"/>
<text x="548.5" y="143.4" font-family="Liberation Serif" font-size="12.5" font-weight="bold" fill="#1E8A8A" text-anchor="middle" >Bilinear</text>
<polyline points="548.7,124.4 548.7,111.0" fill="none" stroke="#333" stroke-width="1.4" stroke-linejoin="miter"/>
<polygon points="548.7,102.0 544.7,111.0 552.7,111.0" fill="#000"/>
<text x="855.0" y="204.5" font-family="Liberation Serif" font-size="14" font-weight="bold" fill="#000" text-anchor="middle" >(c)</text>
<svg x="460" y="13.2" width="177" height="88.4" viewBox="460 13.2 177 88.4" preserveAspectRatio="none">
<g filter="url(#blur05)">
<rect x="455" y="8" width="190" height="100" fill="#007F80"/>
<polygon points="455,49 480,48.5 510,49 540,50 560,51 580,52 600,52 615,50 625,49 645,49 645,110 455,110" fill="#000"/>
<polygon points="455,53 500,53 530,53.5 560,54 590,56 610,55.5 645,55 645,110 455,110" fill="#003F00"/>
<polygon points="583,57 645,57 645,61 590,60" fill="#000"/>
<polygon points="455,69 490,68.5 515,71 512,77 490,77 475,78 455,78" fill="#000"/>
<polygon points="455,79 479,78.5 478,82 455,83" fill="#808000"/>
<polygon points="490,76 520,74.5 542,74 543,78 500,79.5" fill="#808000"/>
<polygon points="512,80 528,79 524,84 515,85" fill="#000"/>
<polygon points="525,86 528,86 523,101.6 520,101.6" fill="#000"/>
<rect x="526.5" y="68" width="9" height="4.8" fill="#E00000"/>
<rect x="534" y="62" width="6" height="2" fill="#D00000"/>
<rect x="520" y="54.5" width="5" height="2" fill="#A0A000"/>
<polygon points="540,66 552,63 558,62 557,67 565,72 592,80 620,91 637,99 637,101.6 556,101.6 553,92 547,80 540,73" fill="#808000"/>
<polyline points="557,67 565,72 592,80 620,91 637,99" fill="none" stroke="#000" stroke-width="1.2"/>
<polygon points="545,76 549,82 555,92 557,101.6 551,101.6 548,90 544,82" fill="#000"/>
<polygon points="540,82 546,90 549,101.6 520,101.6" fill="#003F00"/>
<rect x="552" y="72" width="2" height="7" fill="#E8A8B8"/>
<rect x="564" y="57.5" width="4" height="3" fill="#FFA500"/>
<rect x="570" y="57" width="2" height="2" fill="#E00000"/>
<rect x="570.3" y="58" width="1.2" height="8" fill="#B01010"/>
<rect x="612" y="50" width="1.4" height="14" fill="#C01818"/>
<rect x="607" y="62.5" width="1.4" height="14" fill="#C01818"/>
<rect x="603.5" y="70.5" width="1.4" height="5" fill="#C01818"/>
<rect x="628" y="61" width="1.4" height="5" fill="#C01818"/>
<rect x="626" y="74" width="1.4" height="9" fill="#C01818"/>
<rect x="563" y="62" width="2" height="2" fill="#D01010"/>
</g>
</svg>
<line x1="565" y1="606.2" x2="634" y2="609.3" stroke="#3EA8CA" stroke-width="2.4" stroke-dasharray="17.5 8"/>
<polyline points="638.7,603.6 651.5,609.9 638.7,616.0" fill="none" stroke="#3EA8CA" stroke-width="2.4" stroke-linejoin="miter"/>
<rect x="650.5" y="581.4" width="131.3" height="57.4" rx="14" ry="14" fill="#D8D8D8" stroke="#6A6A6A" stroke-width="0.9"/>
<text x="716.0" y="606.5" font-family="Liberation Serif" font-size="12.7" font-weight="bold" fill="#111" text-anchor="middle" >Spatial Information</text>
<text x="716.0" y="621.8" font-family="Liberation Serif" font-size="12.7" font-weight="bold" fill="#111" text-anchor="middle" >Computing Module</text>
<circle cx="114.4" cy="708" r="14.6" fill="#fff" stroke="#999" stroke-width="0.9"/>
<text x="0" y="713" font-family="Liberation Serif" font-size="13" fill="#555" text-anchor="middle" transform="translate(114.4,0) scale(0.7,1)">C</text>
<text x="147.1" y="717.8" font-family="Liberation Serif" font-size="17" font-weight="bold" fill="#111" text-anchor="start" >Stitch along the channel dimension</text>
<circle cx="114.4" cy="754.2" r="15.4" fill="#0C6CC8"/>
<text x="0" y="759" font-family="Liberation Serif" font-size="14" fill="#061426" text-anchor="middle" transform="translate(114.4,0) scale(0.55,1)">M</text>
<text x="153.0" y="759.8" font-family="Liberation Serif" font-size="17" font-weight="bold" fill="#111" text-anchor="start" >MaxPooling</text>
<circle cx="451.5" cy="708.4" r="13.2" fill="#fff" stroke="#777" stroke-width="0.9"/>
<line x1="438.3" y1="708.4" x2="464.7" y2="708.4" stroke="#777" stroke-width="0.9"/>
<line x1="451.5" y1="695.2" x2="451.5" y2="721.6" stroke="#777" stroke-width="0.9"/>
<text x="486.2" y="706.9" font-family="Liberation Serif" font-size="17" font-weight="bold" fill="#111" text-anchor="start" >Pixel-by-pixel summation of dual-pathway</text>
<text x="486.2" y="726.7" font-family="Liberation Serif" font-size="17" font-weight="bold" fill="#111" text-anchor="start" >feature maps</text>
<circle cx="454.7" cy="757.2" r="15.4" fill="#0C6CC8"/>
<text x="0" y="762" font-family="Liberation Serif" font-size="14" fill="#061426" text-anchor="middle" transform="translate(454.7,0) scale(0.6,1)">A</text>
<text x="486.2" y="762.0" font-family="Liberation Serif" font-size="17" font-weight="bold" fill="#111" text-anchor="start" >AvgPooling</text>
</svg></body></html>
